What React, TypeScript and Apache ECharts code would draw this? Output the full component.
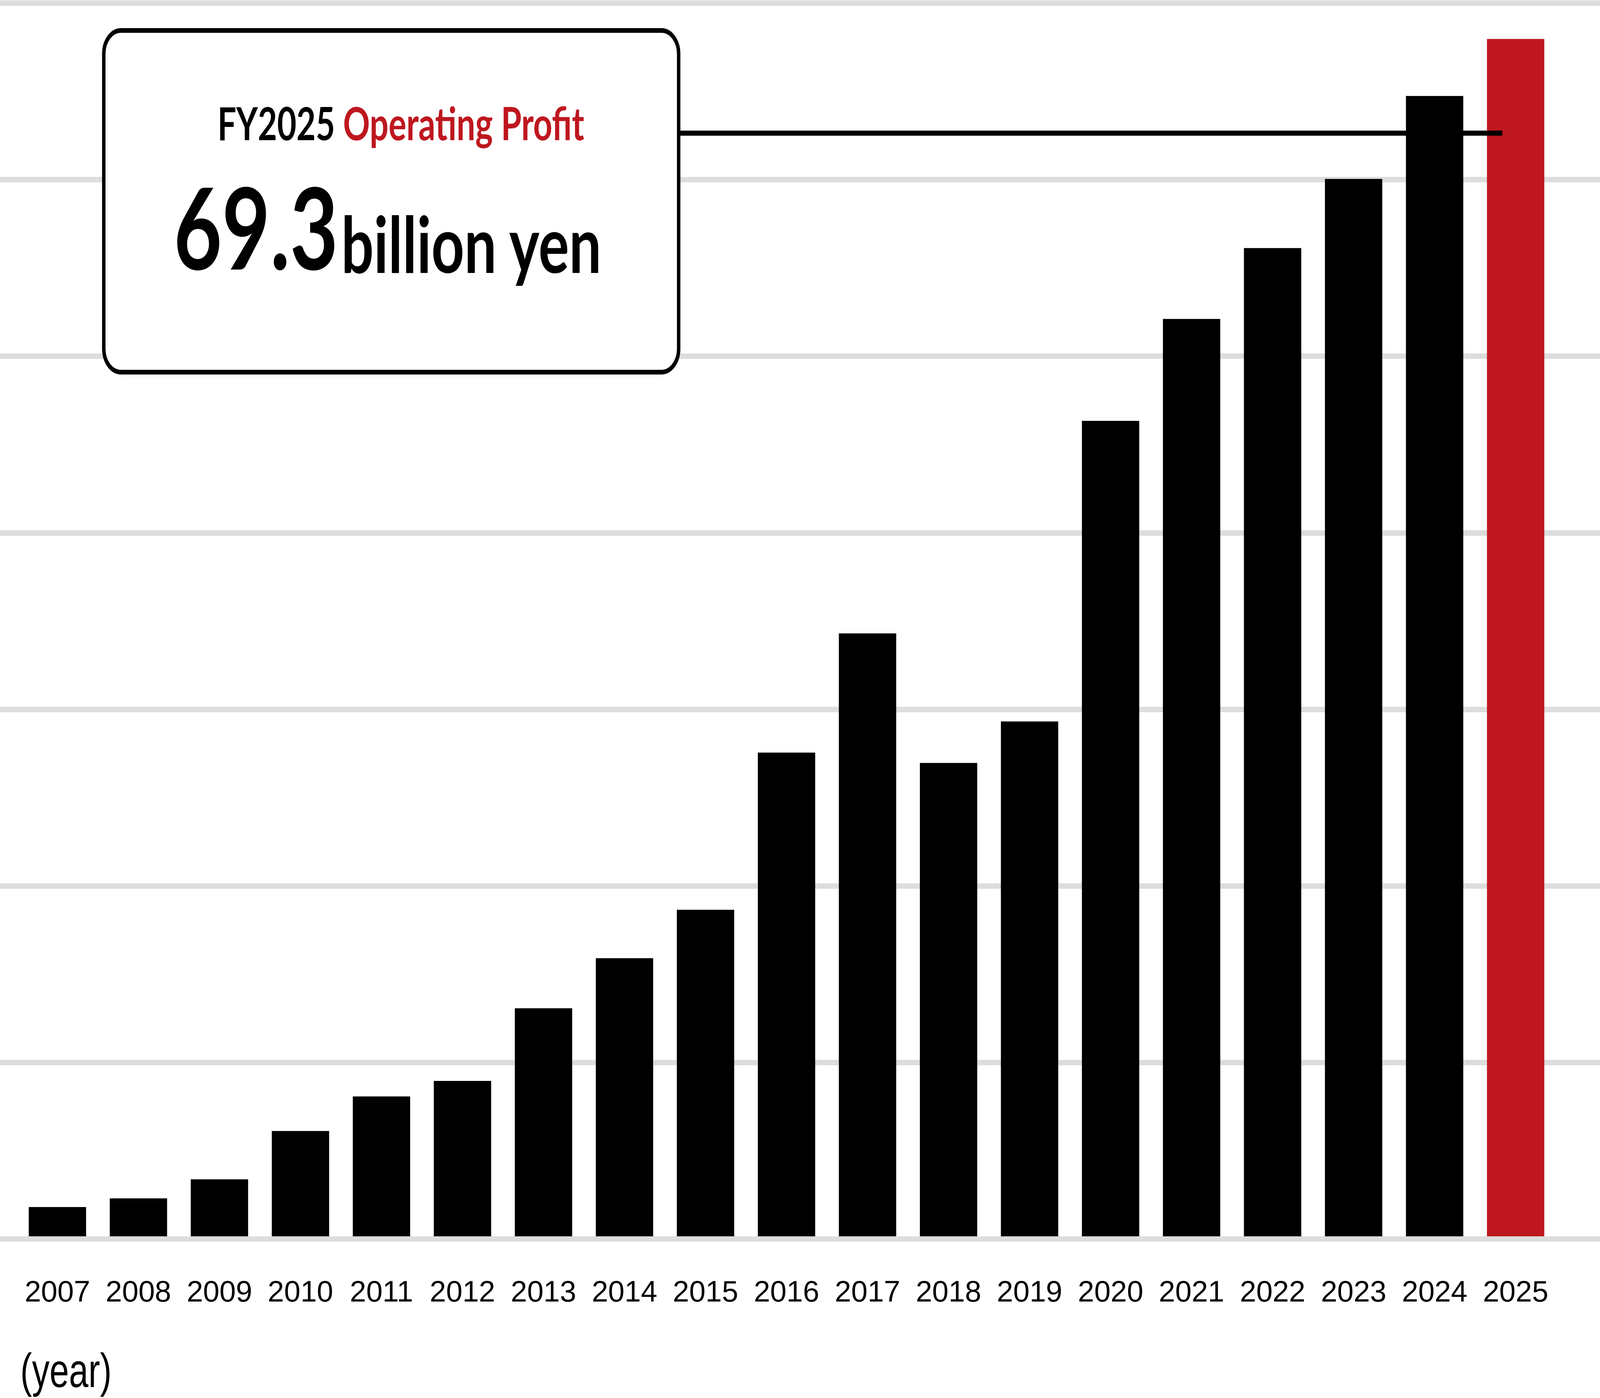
import React, { useEffect, useRef } from 'react';
import * as echarts from 'echarts';

const years = [
  '2007', '2008', '2009', '2010', '2011', '2012', '2013', '2014', '2015', '2016',
  '2017', '2018', '2019', '2020', '2021', '2022', '2023', '2024', '2025'
];

// operating profit, billion yen
const profit = [
  1.7, 2.2, 3.3, 6.1, 8.1, 9.0, 13.2, 16.1, 18.9, 28.0,
  34.9, 27.4, 29.8, 47.2, 53.1, 57.2, 61.2, 66.0, 69.3
];

const headline = 'FY2025';
const headlineRed = 'Operating Profit';
const bigValue = '69.3';
const unit = 'billion yen';
const xUnit = '(year)';

const RED = '#BE171F';
const GRID_GRAY = '#dddddd';

// value scale shared by the bars and the full-width grid lines
const Y_MIN = -0.16;
const Y_MAX = 71.38;
const Y_STEP = 10.22;

// layout measured on the reference's 5581 x 3580 canvas, mapped onto the window
const REF_W = 5581;
const REF_H = 3580;

const App: React.FC = () => {
  const chartRef = useRef<HTMLDivElement>(null);
  const w = window.innerWidth;
  const h = window.innerHeight;

  useEffect(() => {
    document.body.style.margin = '0';
    if (!chartRef.current) return;
    const chart = echarts.init(chartRef.current, null, { renderer: 'svg' });
    const sx = w / REF_W;
    const sy = h / REF_H;
    const sf = Math.sqrt(sx * sy);

    const lastIdx = profit.length - 1;
    const labelSize = 88 * sf;
    const gridTop = 7.8 * sy;
    const gridBottom = 406.8 * sy;

    const option: any = {
      animation: false,
      backgroundColor: '#ffffff',
      grid: [
        { left: 59 * sx, right: 153 * sx, top: gridTop, bottom: gridBottom, containLabel: false },
        // grid lines run across the whole width
        { left: 0, right: 0, top: gridTop, bottom: gridBottom, containLabel: false }
      ],
      xAxis: [
        {
          type: 'category',
          gridIndex: 0,
          data: years,
          axisLine: { show: false },
          axisTick: { show: false },
          splitLine: { show: false },
          axisLabel: {
            interval: 0,
            hideOverlap: false,
            margin: (3307 - 3173.2) * sy - labelSize / 2,
            fontSize: labelSize,
            fontFamily: 'Liberation Sans, Arial, sans-serif',
            color: '#000'
          }
        },
        { type: 'value', gridIndex: 1, min: 0, max: 1, show: false }
      ],
      yAxis: [
        {
          type: 'value',
          gridIndex: 0,
          min: Y_MIN,
          max: Y_MAX,
          interval: Y_STEP,
          show: false,
          splitLine: { show: false }
        },
        {
          type: 'value',
          gridIndex: 1,
          min: Y_MIN,
          max: Y_MAX,
          interval: Y_STEP,
          axisLine: { show: false },
          axisTick: { show: false },
          axisLabel: { show: false },
          splitLine: {
            show: true,
            lineStyle: { color: GRID_GRAY, width: 14 * sy }
          }
        }
      ],
      series: [
        {
          type: 'bar',
          xAxisIndex: 0,
          yAxisIndex: 0,
          barWidth: 200 * sx,
          data: profit.map((v, i) => ({
            value: v,
            itemStyle: { color: i === lastIdx ? RED : '#000000' }
          }))
        }
      ],
      graphic: [
        {
          type: 'group',
          x: 0,
          y: 0,
          scaleX: sx,
          scaleY: sy,
          z: 100,
          children: [
            {
              type: 'line',
              z: 100,
              shape: { x1: 2367, y1: 341, x2: 5240, y2: 341 },
              style: { stroke: '#000', lineWidth: 13 }
            },
            {
              type: 'rect',
              z: 101,
              shape: { x: 362, y: 78, width: 2005, height: 875, r: 60 },
              style: { fill: '#ffffff', stroke: '#000', lineWidth: 12 }
            },
            {
              type: 'text',
              z: 102,
              style: {
                text: `{a|${headline}} {b|${headlineRed}}`,
                x: 1398,
                y: 315,
                align: 'center',
                verticalAlign: 'middle',
                rich: {
                  a: {
                    fontSize: 116,
                    fontWeight: 'bold',
                    fontFamily: 'Lato, sans-serif',
                    fill: '#000'
                  },
                  b: {
                    fontSize: 116,
                    fontWeight: 'bold',
                    fontFamily: 'Lato, sans-serif',
                    fill: RED
                  }
                },
                fontSize: 116,
                fontWeight: 'bold',
                fontFamily: 'Lato, sans-serif'
              }
            },
            {
              type: 'text',
              z: 102,
              style: {
                text: bigValue,
                x: 606,
                y: 578,
                align: 'left',
                verticalAlign: 'middle',
                fontSize: 290,
                fontWeight: 'bold',
                fontFamily: 'Lato, sans-serif',
                fill: '#000'
              }
            },
            {
              type: 'text',
              z: 102,
              style: {
                text: unit,
                x: 1190,
                y: 621,
                align: 'left',
                verticalAlign: 'middle',
                fontSize: 200,
                fontWeight: 'bold',
                fontFamily: 'Lato, sans-serif',
                fill: '#000'
              }
            },
            {
              type: 'text',
              z: 102,
              style: {
                text: xUnit,
                x: 71,
                y: 3510,
                align: 'left',
                verticalAlign: 'middle',
                fontSize: 122,
                fontFamily: 'Liberation Sans, Arial, sans-serif',
                fill: '#000'
              }
            }
          ]
        }
      ]
    };

    chart.setOption(option);

    return () => {
      chart.dispose();
    };
  }, [w, h]);

  return <div ref={chartRef} style={{ width: w, height: h }} />;
};

export default App;
